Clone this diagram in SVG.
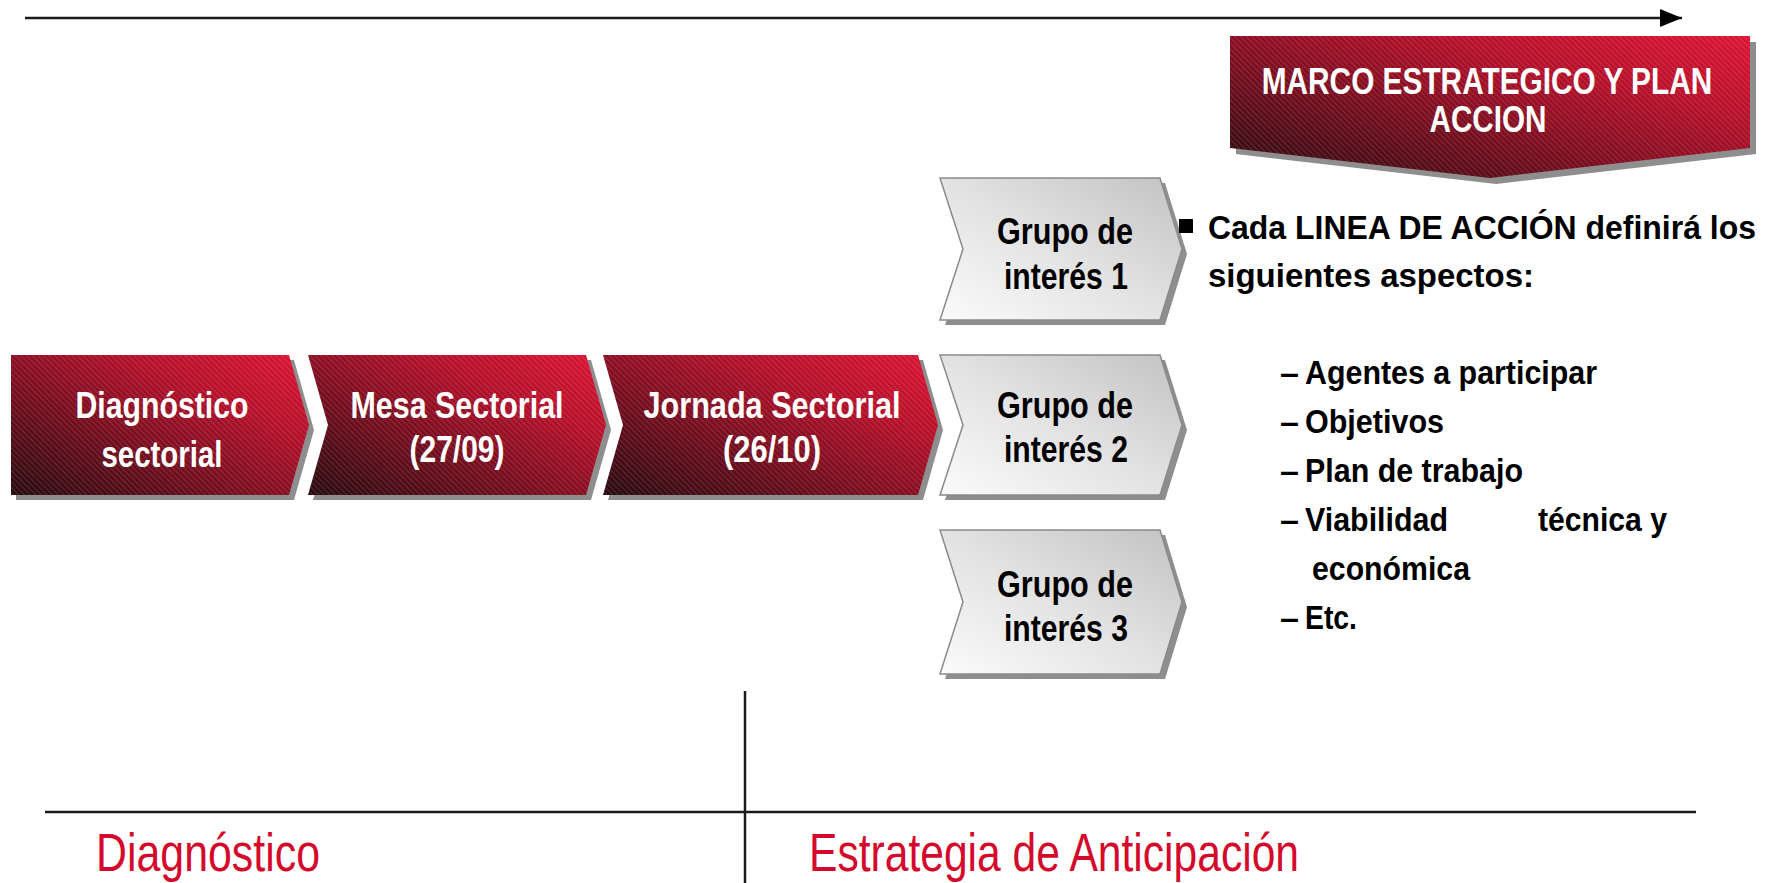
<svg xmlns="http://www.w3.org/2000/svg" width="1776" height="883" viewBox="0 0 1776 883">
<defs>
<linearGradient id="red" x1="0" y1="1" x2="1" y2="0">
<stop offset="0" stop-color="#260a0e"/>
<stop offset="0.35" stop-color="#6e0c1c"/>
<stop offset="0.7" stop-color="#b50f29"/>
<stop offset="1" stop-color="#dc1333"/>
</linearGradient>
<linearGradient id="gray" x1="0" y1="1" x2="1" y2="0">
<stop offset="0" stop-color="#fbfbfb"/>
<stop offset="0.5" stop-color="#e2e2e2"/>
<stop offset="1" stop-color="#c2c2c2"/>
</linearGradient>
<pattern id="hatch" width="4" height="4" patternUnits="userSpaceOnUse" patternTransform="rotate(45)">
<rect width="4" height="1.3" fill="#ffffff" opacity="0.12"/>
</pattern>
<marker id="arrBig" markerWidth="22" markerHeight="18" refX="22" refY="9" orient="auto" markerUnits="userSpaceOnUse" viewBox="0 0 22 18">
<path d="M0,0 L22,9 L0,18 Z" fill="#000"/>
</marker>
</defs>
<style>
.shadow{fill:#8e8e8e}
.redfill{fill:url(#red)}
.grayfill{fill:url(#gray);stroke:#8a8a8a;stroke-width:1.5}
.hatch{fill:url(#hatch)}
.t{font-family:"Liberation Sans Narrow","Liberation Sans",Arial,sans-serif;font-weight:bold}
.w{fill:#fff;font-size:37px}
.b{fill:#000;font-size:37px}
.list{fill:#000;font-size:34px}
.title{font-family:"Liberation Sans Narrow","Liberation Sans",Arial,sans-serif;fill:#d40a2c;font-size:53px}
.line{stroke:#1a1a1a;stroke-width:2.5;fill:none}
</style>

<g id="connectors">
<line class="line" x1="25" y1="18" x2="1682" y2="18" stroke-width="2" marker-end="url(#arrBig)"/>
<line class="line" x1="45" y1="812" x2="1696" y2="812"/>
<line class="line" x1="745" y1="691" x2="745" y2="883" stroke-width="2"/>
</g>

<g id="marco">
<path class="shadow" d="M1236,42 L1756,42 L1756,154 L1496,184 L1236,154 Z"/>
<path class="redfill" d="M1230,36 L1750,36 L1750,148 L1490,178 L1230,148 Z"/>
<path class="hatch" d="M1230,36 L1750,36 L1750,148 L1490,178 L1230,148 Z"/>
<text class="t w" transform="translate(1487,94) scale(0.806,1)" text-anchor="middle">MARCO ESTRATEGICO Y PLAN</text>
<text class="t w" x="1488" y="132" text-anchor="middle" textLength="117" lengthAdjust="spacingAndGlyphs">ACCION</text>
</g>

<g id="diagnostico-sectorial">
<path class="shadow" d="M16,360 L294,360 L314,430 L294,500 L16,500 Z"/>
<path class="redfill" d="M11,355 L289,355 L309,425 L289,495 L11,495 Z"/>
<path class="hatch" d="M11,355 L289,355 L309,425 L289,495 L11,495 Z"/>
<text class="t w" x="162" y="418" text-anchor="middle" textLength="173" lengthAdjust="spacingAndGlyphs">Diagnóstico</text>
<text class="t w" x="162" y="467" text-anchor="middle" textLength="121" lengthAdjust="spacingAndGlyphs">sectorial</text>
</g>

<g id="mesa-sectorial">
<path class="shadow" d="M313,360 L591,360 L611,430 L591,500 L313,500 L333,430 Z"/>
<path class="redfill" d="M308,355 L586,355 L606,425 L586,495 L308,495 L328,425 Z"/>
<path class="hatch" d="M308,355 L586,355 L606,425 L586,495 L308,495 L328,425 Z"/>
<text class="t w" x="457" y="418" text-anchor="middle" textLength="213" lengthAdjust="spacingAndGlyphs">Mesa Sectorial</text>
<text class="t w" x="457" y="462" text-anchor="middle" textLength="95" lengthAdjust="spacingAndGlyphs">(27/09)</text>
</g>

<g id="jornada-sectorial">
<path class="shadow" d="M608,360 L923,360 L943,430 L923,500 L608,500 L628,430 Z"/>
<path class="redfill" d="M603,355 L918,355 L938,425 L918,495 L603,495 L623,425 Z"/>
<path class="hatch" d="M603,355 L918,355 L938,425 L918,495 L603,495 L623,425 Z"/>
<text class="t w" x="772" y="418" text-anchor="middle" textLength="257" lengthAdjust="spacingAndGlyphs">Jornada Sectorial</text>
<text class="t w" x="772" y="462" text-anchor="middle" textLength="98" lengthAdjust="spacingAndGlyphs">(26/10)</text>
</g>

<g id="grupo-1">
<path class="shadow" d="M945,183 L1165,183 L1187,254 L1165,325 L945,325 L968,254 Z"/>
<path class="grayfill" d="M940,178 L1160,178 L1182,249 L1160,320 L940,320 L963,249 Z"/>
<text class="t b" x="1065" y="244" text-anchor="middle" textLength="136" lengthAdjust="spacingAndGlyphs">Grupo de</text>
<text class="t b" x="1066" y="289" text-anchor="middle" textLength="124" lengthAdjust="spacingAndGlyphs">interés 1</text>
</g>

<g id="grupo-2">
<path class="shadow" d="M945,360 L1165,360 L1187,430 L1165,500 L945,500 L968,430 Z"/>
<path class="grayfill" d="M940,355 L1160,355 L1182,425 L1160,495 L940,495 L963,425 Z"/>
<text class="t b" x="1065" y="418" text-anchor="middle" textLength="136" lengthAdjust="spacingAndGlyphs">Grupo de</text>
<text class="t b" x="1066" y="462" text-anchor="middle" textLength="124" lengthAdjust="spacingAndGlyphs">interés 2</text>
</g>

<g id="grupo-3">
<path class="shadow" d="M945,535 L1165,535 L1187,607 L1165,679 L945,679 L968,607 Z"/>
<path class="grayfill" d="M940,530 L1160,530 L1182,602 L1160,674 L940,674 L963,602 Z"/>
<text class="t b" x="1065" y="597" text-anchor="middle" textLength="136" lengthAdjust="spacingAndGlyphs">Grupo de</text>
<text class="t b" x="1066" y="641" text-anchor="middle" textLength="124" lengthAdjust="spacingAndGlyphs">interés 3</text>
</g>

<g id="aspectos">
<rect x="1179" y="219" width="14" height="14" fill="#000"/>
<text class="t list" transform="translate(1208,239) scale(0.94,1)">Cada LINEA DE ACCIÓN definirá los</text>
<text class="t list" x="1208" y="287" textLength="326" lengthAdjust="spacingAndGlyphs">siguientes aspectos:</text>
<text class="t list" x="1280" y="384">–</text>
<text class="t list" x="1305" y="384" textLength="292" lengthAdjust="spacingAndGlyphs">Agentes a participar</text>
<text class="t list" x="1280" y="433">–</text>
<text class="t list" x="1305" y="433" textLength="139" lengthAdjust="spacingAndGlyphs">Objetivos</text>
<text class="t list" x="1280" y="482">–</text>
<text class="t list" x="1305" y="482" textLength="218" lengthAdjust="spacingAndGlyphs">Plan de trabajo</text>
<text class="t list" x="1280" y="531">–</text>
<text class="t list" x="1305" y="531" textLength="143" lengthAdjust="spacingAndGlyphs">Viabilidad</text>
<text class="t list" x="1538" y="531" textLength="129" lengthAdjust="spacingAndGlyphs">técnica y</text>
<text class="t list" x="1312" y="580" textLength="158" lengthAdjust="spacingAndGlyphs">económica</text>
<text class="t list" x="1280" y="629">–</text>
<text class="t list" x="1305" y="629" textLength="52" lengthAdjust="spacingAndGlyphs">Etc.</text>
</g>

<g id="fase-diagnostico">
<text class="title" x="96" y="871" textLength="224" lengthAdjust="spacingAndGlyphs">Diagnóstico</text>
</g>
<g id="fase-estrategia">
<text class="title" x="809" y="871" textLength="490" lengthAdjust="spacingAndGlyphs">Estrategia de Anticipación</text>
</g>
</svg>
